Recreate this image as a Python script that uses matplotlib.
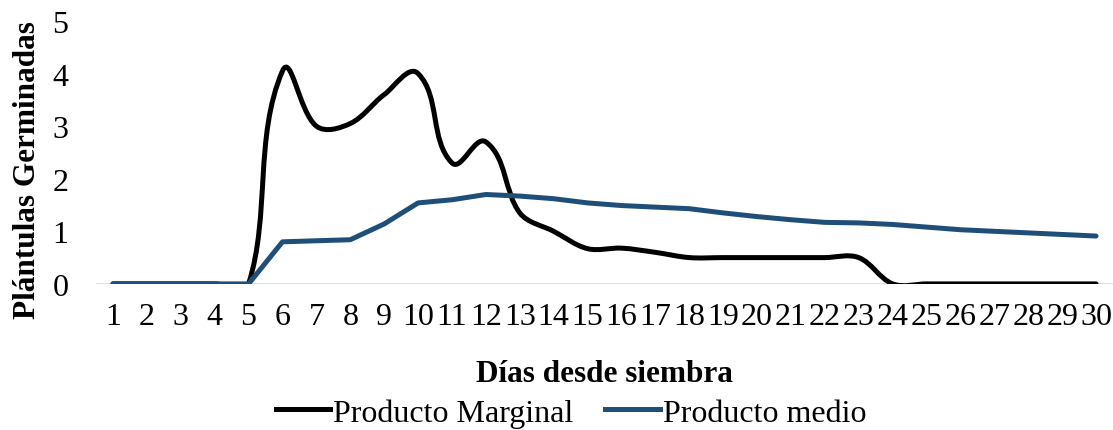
import numpy as np
import matplotlib.pyplot as plt
from matplotlib.path import Path
from matplotlib.patches import PathPatch
from matplotlib.lines import Line2D

plt.rcParams['font.family'] = ['Liberation Serif', 'DejaVu Serif']

# días desde la siembra
dias = list(range(1, 31))
# producto marginal (plántulas germinadas por día)
marginal = [0, 0, 0, 0, 0, 4.05, 3.0, 3.05, 3.6, 4.0,
            2.3, 2.7, 1.35, 1.0, 0.67, 0.68, 0.6, 0.5, 0.5, 0.5,
            0.5, 0.5, 0.5, 0, 0, 0, 0, 0, 0, 0]
# producto medio
medio = [0, 0, 0, 0, 0, 0.8, 0.82, 0.84, 1.14, 1.54,
         1.6, 1.7, 1.67, 1.62, 1.54, 1.49, 1.46, 1.43, 1.35, 1.28,
         1.22, 1.17, 1.16, 1.13, 1.08, 1.03, 1.0, 0.97, 0.94, 0.91]

negro = '#000000'
azul = '#1F4E79'


def curva_suave(ax, x, y):
    # spline tipo Excel: bezier con tangentes paralelas a los vecinos,
    # calculada en pixeles para que los saltos grandes no se pasen
    pts = ax.transData.transform(np.column_stack([x, y]))
    n = len(pts)
    verts = [pts[0]]
    codes = [Path.MOVETO]
    for i in range(n - 1):
        p0 = pts[max(i - 1, 0)]
        p1 = pts[i]
        p2 = pts[i + 1]
        p3 = pts[min(i + 2, n - 1)]
        d = np.hypot(*(p2 - p1))
        t1 = p2 - p0
        t2 = p3 - p1
        t1 = t1 / np.hypot(*t1) if np.hypot(*t1) > 0 else t1
        t2 = t2 / np.hypot(*t2) if np.hypot(*t2) > 0 else t2
        c1 = p1 + t1 * d / 3
        c2 = p2 - t2 * d / 3
        verts += [c1, c2, p2]
        codes += [Path.CURVE4] * 3
    verts = ax.transData.inverted().transform(np.array(verts))
    return Path(verts, codes)


fig = plt.figure(figsize=(11.13, 4.31), dpi=100)
ax = fig.add_axes([0.0863, 0.339, 0.9137, 0.61])
ax.set_xlim(0.5, 30.5)
ax.set_ylim(0, 5)

ax.axhline(0, color='#D9D9D9', lw=1.2, zorder=1)

ruta = curva_suave(ax, dias, marginal)
ax.add_patch(PathPatch(ruta, facecolor='none', edgecolor=negro, lw=3.6,
                       capstyle='round', joinstyle='round', zorder=3))
ax.plot(dias, medio, color=azul, lw=3.6, solid_capstyle='round',
        solid_joinstyle='round', zorder=4)

ax.set_xticks(dias)
ax.set_xticklabels([str(d) for d in dias])
ax.set_yticks(range(0, 6))
ax.tick_params(axis='both', length=0, labelsize=23)
ax.tick_params(axis='x', pad=13)
ax.tick_params(axis='y', pad=20)
for s in ax.spines.values():
    s.set_visible(False)

ax.set_xlabel('Días desde siembra', fontsize=22.5, fontweight='bold')
ax.xaxis.set_label_coords(0.5, -0.285)
ax.set_ylabel('Plántulas Germinadas', fontsize=22.5, fontweight='bold')
ax.yaxis.set_label_coords(-0.053, 0.437)

handles = [Line2D([], [], color=negro, lw=3.6),
           Line2D([], [], color=azul, lw=3.6)]
fig.legend(handles, ['Producto Marginal', 'Producto medio'],
           loc='center', bbox_to_anchor=(0.513, 0.04), ncol=2,
           frameon=False, fontsize=23, handlelength=1.7,
           handletextpad=0.1, columnspacing=1.0, borderpad=0.1)

fig.savefig('out.png', dpi=100)
